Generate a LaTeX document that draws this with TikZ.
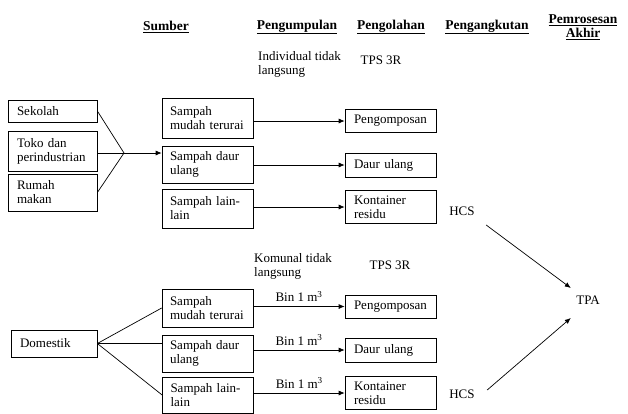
\documentclass[tikz,border=0pt]{standalone}
\usepackage{fontspec}
\setmainfont{Liberation Serif}
\newfontfamily\tnr{Liberation Serif}
\usetikzlibrary{arrows.meta,calc}
\tikzset{
  every node/.style={font=\tnr\fontsize{13}{14}\selectfont},
  srcbox/.style={draw, line width=.7pt, align=left, text width=71pt, inner xsep=9pt, inner ysep=2pt},
  wastebox/.style={draw, line width=.7pt, align=left, text width=75pt, inner xsep=8pt, inner ysep=2pt},
  procbox/.style={draw, line width=.7pt, align=left, text width=73pt, inner xsep=9pt, inner ysep=2pt},
  head/.style={font=\tnr\fontsize{13.5}{14}\selectfont\bfseries, align=center},
  plain/.style={align=left, inner sep=0pt},
  arr/.style={line width=.7pt, -{Latex[length=6pt,width=5pt]}},
  ln/.style={line width=.7pt}
}
\begin{document}
\begin{tikzpicture}[x=1pt, y=1pt, yscale=-1]
  \useasboundingbox (0,0) rectangle (628,413);

  % headings
  \node[head] (hsum) at (166,27) {\underline{Sumber}};
  \node[head] (hkum) at (297,27) {\underline{Pengumpulan}};
  \node[head] (hola) at (391,27) {\underline{Pengolahan}};
  \node[head] (hang) at (487,27) {\underline{Pengangkutan}};
  \node[head] (hakh) at (583,27) {\underline{Pemrosesan}\\\underline{Akhir}};

  % upper group
  \node[plain, anchor=west] (indiv) at (258,64) {Individual tidak\\langsung};
  \node (tpsa) at (381,60) {TPS 3R};

  \node[srcbox, minimum height=22pt] (sekolah) at (52.5,111) {Sekolah};
  \node[srcbox, minimum height=40pt] (toko) at (52.5,151) {Toko dan\\\mbox{perindustrian}};
  \node[srcbox, minimum height=37pt] (rumah) at (52.5,192.5) {Rumah\\makan};
  \coordinate (jn) at (124,153);

  \node[wastebox, minimum height=40pt] (ma1) at (207.5,118) {Sampah\\\mbox{mudah terurai}};
  \node[wastebox, minimum height=37pt] (ma2) at (207.5,164.5) {Sampah daur\\ulang};
  \node[wastebox, minimum height=39pt] (ma3) at (207.5,208.5) {Sampah lain-\\lain};

  \node[procbox, minimum height=23pt] (pa1) at (390.5,121) {Pengomposan};
  \node[procbox, minimum height=24pt] (pa2) at (390.5,165) {Daur ulang};
  \node[procbox, minimum height=33pt] (pa3) at (390.5,207) {Kontainer\\residu};

  \draw[ln] (sekolah.east) -- (jn);
  \draw[ln] (toko.east |- jn) -- (jn);
  \draw[ln] (rumah.east) -- (jn);
  \draw[arr] (jn) -- (jn -| ma2.west);
  \foreach \i in {1,2,3}{
    \draw[arr] (pa\i.west -| ma\i.east) -- (pa\i.west);
  }

  \node (hcsa) at (462,211) {HCS};
  \node (tpa) at (588,300) {TPA};

  % lower group
  \node[plain, anchor=west] (komun) at (254,266) {Komunal tidak\\langsung};
  \node (tpsb) at (390,265) {TPS 3R};

  \node[srcbox, text width=68pt, minimum height=27pt] (dom) at (54,343.5) {Domestik};

  \node[wastebox, minimum height=38pt] (mb1) at (207.5,308) {Sampah\\\mbox{mudah terurai}};
  \node[wastebox, minimum height=37pt] (mb2) at (207.5,353.5) {Sampah daur\\ulang};
  \node[wastebox, minimum height=36pt] (mb3) at (208,395) {Sampah lain-\\lain};

  \node[procbox, minimum height=23pt] (pb1) at (390.5,306.5) {Pengomposan};
  \node[procbox, minimum height=24pt] (pb2) at (390.5,350) {Daur ulang};
  \node[procbox, minimum height=33pt] (pb3) at (390.5,393) {Kontainer\\residu};

  \draw[ln] (dom.east) -- (mb1.west);
  \draw[ln] (dom.east) -- (dom.east -| mb2.west);
  \draw[ln] (dom.east) -- (mb3.west);
  \foreach \i in {1,2,3}{
    \draw[arr] (pb\i.west -| mb\i.east) -- node[above, yshift=1pt] (bin\i) {Bin 1 m\textsuperscript{3}} (pb\i.west);
  }

  \node (hcsb) at (462,394) {HCS};

  \draw[arr] ($(hcsa.east)+(8,14)$) -- ($(tpa.west)+(-2,-12)$);
  \draw[arr] ($(hcsb.east)+(9,-4)$) -- ($(tpa.west)+(-2,18)$);
\end{tikzpicture}
\end{document}
